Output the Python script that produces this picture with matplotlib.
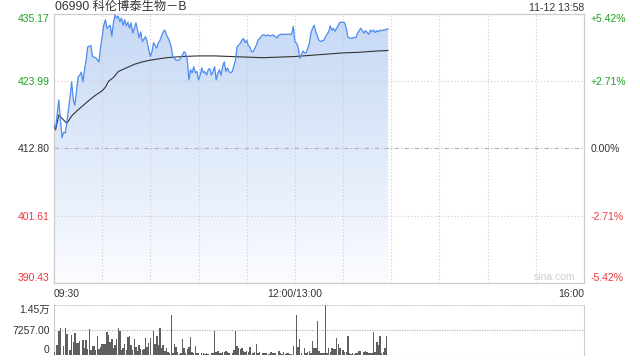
import matplotlib
matplotlib.use('Agg')
import matplotlib.pyplot as plt
import numpy as np
from matplotlib.colors import LinearSegmentedColormap
from matplotlib.patches import Polygon

plt.rcParams['font.family'] = ['Liberation Sans', 'Noto Sans CJK SC']

# minutes of trading since 09:30 (lunch break removed)
price_min = [0, 1, 3, 4, 5, 6, 7, 8, 10, 11, 12, 13, 15, 16, 17, 18, 19, 20, 21, 23,
             24, 26, 28, 29, 30, 31, 32, 33, 35, 36, 37, 38, 39, 40, 41, 42, 43, 44, 45, 46,
             47, 48, 49, 50, 51, 52, 53, 54, 55, 57, 58, 59, 60, 61, 62, 64, 65, 66, 68, 69,
             70, 71, 72, 73, 74, 75, 76, 78, 80, 81, 82, 83, 84, 85, 86, 87, 88, 89, 90, 91,
             92, 93, 94, 95, 96, 97, 98, 99, 100, 101, 102, 103, 104, 105, 106, 107, 108, 109, 110, 111,
             113, 114, 115, 116, 117, 118, 119, 120, 121, 122, 123, 124, 126, 127, 129, 130, 131, 132, 133, 135,
             136, 138, 139, 140, 142, 144, 146, 148, 149, 150, 151, 152, 153, 154, 155, 156, 157, 158, 159, 160,
             161, 162, 163, 164, 165, 166, 167, 168, 169, 171, 172, 173, 174, 175, 176, 177, 178, 180, 181, 182,
             183, 185, 186, 188, 189, 191, 192, 193, 194, 196, 197, 198, 199, 200, 201, 202, 203, 204, 205, 207,
             208]
price = [416.7, 416.2, 420.9, 417.5, 414.6, 415.5, 415.4, 417.1, 421.4, 423.9, 420.9, 420.0, 424.7, 425.0, 425.5, 423.9, 425.9, 427.5, 429.7, 429.9,
         428.1, 427.9, 427.2, 429.7, 431.4, 433.3, 434.2, 432.8, 433.3, 431.5, 433.7, 435.0, 434.5, 434.8, 433.9, 434.5, 433.3, 434.2, 433.2, 433.8,
         432.8, 433.7, 432.0, 432.8, 433.7, 432.5, 431.2, 432.2, 430.6, 431.4, 430.6, 429.2, 428.1, 428.9, 430.4, 429.5, 430.4, 430.8, 432.2, 432.5,
         431.7, 431.2, 430.6, 429.7, 428.1, 427.8, 427.5, 427.5, 428.4, 428.9, 428.6, 427.5, 424.2, 425.9, 425.4, 426.4, 425.4, 425.6, 424.2, 425.0,
         426.2, 425.4, 425.6, 425.0, 425.9, 426.1, 425.0, 425.6, 426.4, 424.2, 425.3, 425.9, 425.0, 426.4, 427.2, 425.6, 426.2, 425.6, 425.4, 425.6,
         427.5, 429.7, 430.0, 430.3, 430.8, 431.1, 430.4, 430.8, 429.9, 429.7, 428.9, 428.9, 430.0, 430.8, 431.4, 431.7, 431.7, 431.5, 431.7, 431.5,
         431.7, 431.4, 431.2, 431.7, 431.8, 431.8, 431.8, 431.8, 433.1, 430.6, 430.3, 429.7, 427.8, 428.4, 429.0, 428.7, 428.7, 429.5, 430.3, 432.0,
         432.8, 433.3, 432.2, 431.5, 430.8, 430.6, 430.7, 430.8, 431.4, 432.2, 433.2, 432.5, 432.8, 432.3, 432.8, 433.3, 433.8, 433.8, 433.7, 432.8,
         431.3, 431.1, 431.2, 431.3, 432.0, 432.8, 432.4, 432.0, 432.4, 431.8, 432.5, 432.2, 432.5, 432.1, 432.4, 432.2, 432.5, 432.4, 432.5, 432.6,
         432.7]

avg_min = [0, 1, 3, 5, 8, 11, 14, 20, 25, 30, 32, 34, 37, 40, 45, 50, 55, 60, 65, 70,
           80, 90, 100, 110, 120, 130, 140, 150, 160, 170, 180, 190, 200, 208]
avg_price = [416.7, 415.9, 418.4, 417.8, 417.0, 418.2, 419.0, 420.4, 421.5, 422.4, 423.0, 424.0, 424.6, 425.6, 426.2, 426.8, 427.2, 427.5, 427.7, 427.9,
             428.1, 428.2, 428.2, 428.1, 428.0, 427.9, 428.0, 428.1, 428.3, 428.5, 428.7, 428.8, 429.0, 429.1]

vol_min = [0, 2, 3, 4, 6, 7, 8, 10, 11, 12, 13, 14, 15, 16, 18, 19, 20, 21, 22, 23,
           24, 25, 26, 27, 28, 29, 30, 31, 32, 33, 34, 35, 36, 37, 38, 39, 40, 41, 42, 43,
           44, 45, 46, 47, 48, 49, 50, 51, 52, 53, 54, 55, 56, 57, 58, 59, 60, 62, 63, 64,
           65, 66, 67, 68, 69, 70, 71, 72, 73, 74, 75, 76, 77, 78, 79, 80, 81, 82, 83, 84,
           85, 86, 87, 88, 89, 90, 92, 93, 94, 95, 96, 98, 99, 100, 101, 102, 103, 104, 105, 106,
           107, 108, 109, 111, 112, 113, 114, 115, 116, 117, 118, 119, 120, 121, 122, 124, 125, 126, 127, 128,
           130, 131, 132, 134, 135, 136, 137, 138, 140, 141, 142, 143, 144, 145, 146, 147, 148, 149, 151, 152,
           153, 154, 156, 157, 158, 159, 160, 161, 162, 163, 164, 165, 166, 167, 168, 169, 170, 171, 172, 173,
           174, 175, 176, 177, 178, 180, 181, 182, 183, 184, 185, 186, 187, 188, 189, 190, 191, 193, 194, 195,
           196, 197, 198, 199, 200, 201, 202, 203, 204, 205, 206, 207]
vol = [970, 2900, 7060, 7740, 2600, 7740, 6100, 1450, 5800, 3870, 6480, 3390, 3580, 4160, 4350, 1940, 4350, 1650, 7450, 1450,
       2610, 2610, 1450, 5520, 1650, 2420, 3190, 3100, 3190, 6770, 5800, 3870, 4550, 1940, 2900, 4550, 7740, 7060, 1450, 1940,
       3190, 1450, 5130, 5520, 2900, 1450, 4550, 2230, 1260, 2900, 1650, 1450, 1650, 4840, 2420, 3580, 4840, 7060, 3190, 5520,
       2810, 7740, 1940, 2900, 1260, 1940, 970, 680, 11610, 480, 3190, 2420, 970, 290, 680, 4550, 1940, 480, 1650, 2420,
       5130, 970, 480, 2610, 680, 480, 680, 480, 290, 680, 290, 480, 680, 7060, 970, 1260, 680, 480, 970, 970,
       1260, 970, 480, 480, 1450, 7060, 2610, 1940, 1650, 1940, 1260, 970, 1260, 970, 2420, 480, 970, 3190, 480, 970,
       480, 680, 480, 290, 970, 480, 480, 680, 1260, 480, 290, 970, 290, 480, 680, 290, 290, 2610, 11610, 2420,
       4550, 680, 1940, 480, 970, 1260, 680, 4160, 1940, 1940, 9970, 1260, 680, 480, 680, 14510, 680, 1940, 970, 1940,
       1650, 1650, 4840, 3190, 1940, 1450, 970, 970, 5520, 480, 290, 680, 290, 480, 680, 1260, 1260, 970, 1260, 970,
       480, 680, 480, 6770, 970, 3870, 2900, 5520, 480, 970, 1940, 5520]

prev_close = 412.80
y_ticks = [390.43, 401.61, 412.80, 423.99, 435.17]
y_labels = ['390.43', '401.61', '412.80', '423.99', '435.17']
pct_labels = ['-5.42%', '-2.71%', '0.00%', '+2.71%', '+5.42%']
vol_ticks = [0, 7257, 14514]
vol_labels = ['0', '7257.00', '1.45万']
title = '06990 科伦博泰生物－B'
stamp = '11-12 13:58'

green = '#1ea31e'
red = '#f0393c'
dark = '#333333'
label_colors = [red, red, dark, green, green]
grid_c = '#cccccc'

fig = plt.figure(figsize=(6.4, 3.6), dpi=100)
ax = fig.add_axes([54/640, 1-283/360, 530/640, 269/360])
axv = fig.add_axes([54/640, 1-355/360, 530/640, 50/360])

ylo, yhi = y_ticks[0], y_ticks[-1]
ax.set_xlim(0, 330)
ax.set_ylim(ylo, yhi)

# gradient under the price line
cmap = LinearSegmentedColormap.from_list('fill', ['#fbfcff', '#c5d8f5'])
grad = np.linspace(0, 1, 256).reshape(-1, 1)
im = ax.imshow(grad, extent=[0, 330, ylo, yhi], aspect='auto', cmap=cmap,
               origin='lower', zorder=1, interpolation='bilinear')
verts = [(price_min[0], ylo)] + list(zip(price_min, price)) + [(price_min[-1], ylo)]
patch = Polygon(verts, closed=True, facecolor='none', edgecolor='none', transform=ax.transData)
ax.add_patch(patch)
im.set_clip_path(patch)

# grid
for t in range(30, 330, 30):
    ax.axvline(t, color=grid_c, lw=0.8, ls=(0, (1, 2)), zorder=2)
for v in [401.61, 423.99]:
    ax.axhline(v, color=grid_c, lw=0.8, ls=(0, (1, 2)), zorder=2)
ax.axhline(prev_close, color='#b0b0b0', lw=0.8, ls=(0, (4, 2, 1, 2)), zorder=2)

ax.plot(price_min, price, color='#4d8cf0', lw=0.9, zorder=4)
ax.plot(avg_min, avg_price, color='#333333', lw=0.8, zorder=3)

for s in ax.spines.values():
    s.set_color('#cccccc')
    s.set_linewidth(0.9)

ax.set_yticks(y_ticks)
ax.set_yticklabels(y_labels, fontsize=7.5)
ax.tick_params(axis='y', length=0, pad=3)
for lab, c in zip(ax.get_yticklabels(), label_colors):
    lab.set_color(c)
ax.get_yticklabels()[0].set_va('bottom')
ax.get_yticklabels()[-1].set_va('top')

ax.set_xticks([0, 150, 330])
ax.set_xticklabels(['09:30', '12:00/13:00', '16:00'], fontsize=7.5, color=dark)
ax.tick_params(axis='x', length=0, pad=4)
xl = ax.get_xticklabels()
xl[0].set_ha('left')
xl[-1].set_ha('right')

ax2 = ax.twinx()
ax2.set_ylim(ylo, yhi)
ax2.set_yticks(y_ticks)
ax2.set_yticklabels(pct_labels, fontsize=7.5)
ax2.tick_params(axis='y', length=0, pad=5)
for lab, c in zip(ax2.get_yticklabels(), label_colors):
    lab.set_color(c)
ax2.get_yticklabels()[0].set_va('bottom')
ax2.get_yticklabels()[-1].set_va('top')
for s in ax2.spines.values():
    s.set_visible(False)

ax.text(0.945, 0.022, 'sina.com', transform=ax.transAxes, ha='center', va='center',
        fontsize=7.5, color='#cfcfcf', zorder=5)

fig.text(55/640, 1-7/360, title, ha='left', va='center', fontsize=8.8, color=dark)
fig.text(584/640, 1-8/360, stamp, ha='right', va='center', fontsize=7.5, color=dark)

# volume panel
axv.bar(vol_min, vol, width=0.9, color='#5f5f5f', zorder=3)
axv.set_xlim(0, 330)
axv.set_ylim(0, 14514)
for v in vol_ticks:
    axv.axhline(v, color='#bbbbbb', lw=0.9, ls=(0, (1, 1)), zorder=2)
axv.spines['top'].set_visible(False)
axv.spines['bottom'].set_visible(False)
axv.spines['left'].set_color('#cccccc')
axv.spines['right'].set_color('#cccccc')
axv.set_xticks([])
axv.set_yticks(vol_ticks)
axv.set_yticklabels(vol_labels, fontsize=7.5, color=dark)
axv.tick_params(axis='y', length=0, pad=3)
axv.get_yticklabels()[0].set_va('bottom')
axv.get_yticklabels()[-1].set_va('top')

fig.savefig('out.png', dpi=100)
